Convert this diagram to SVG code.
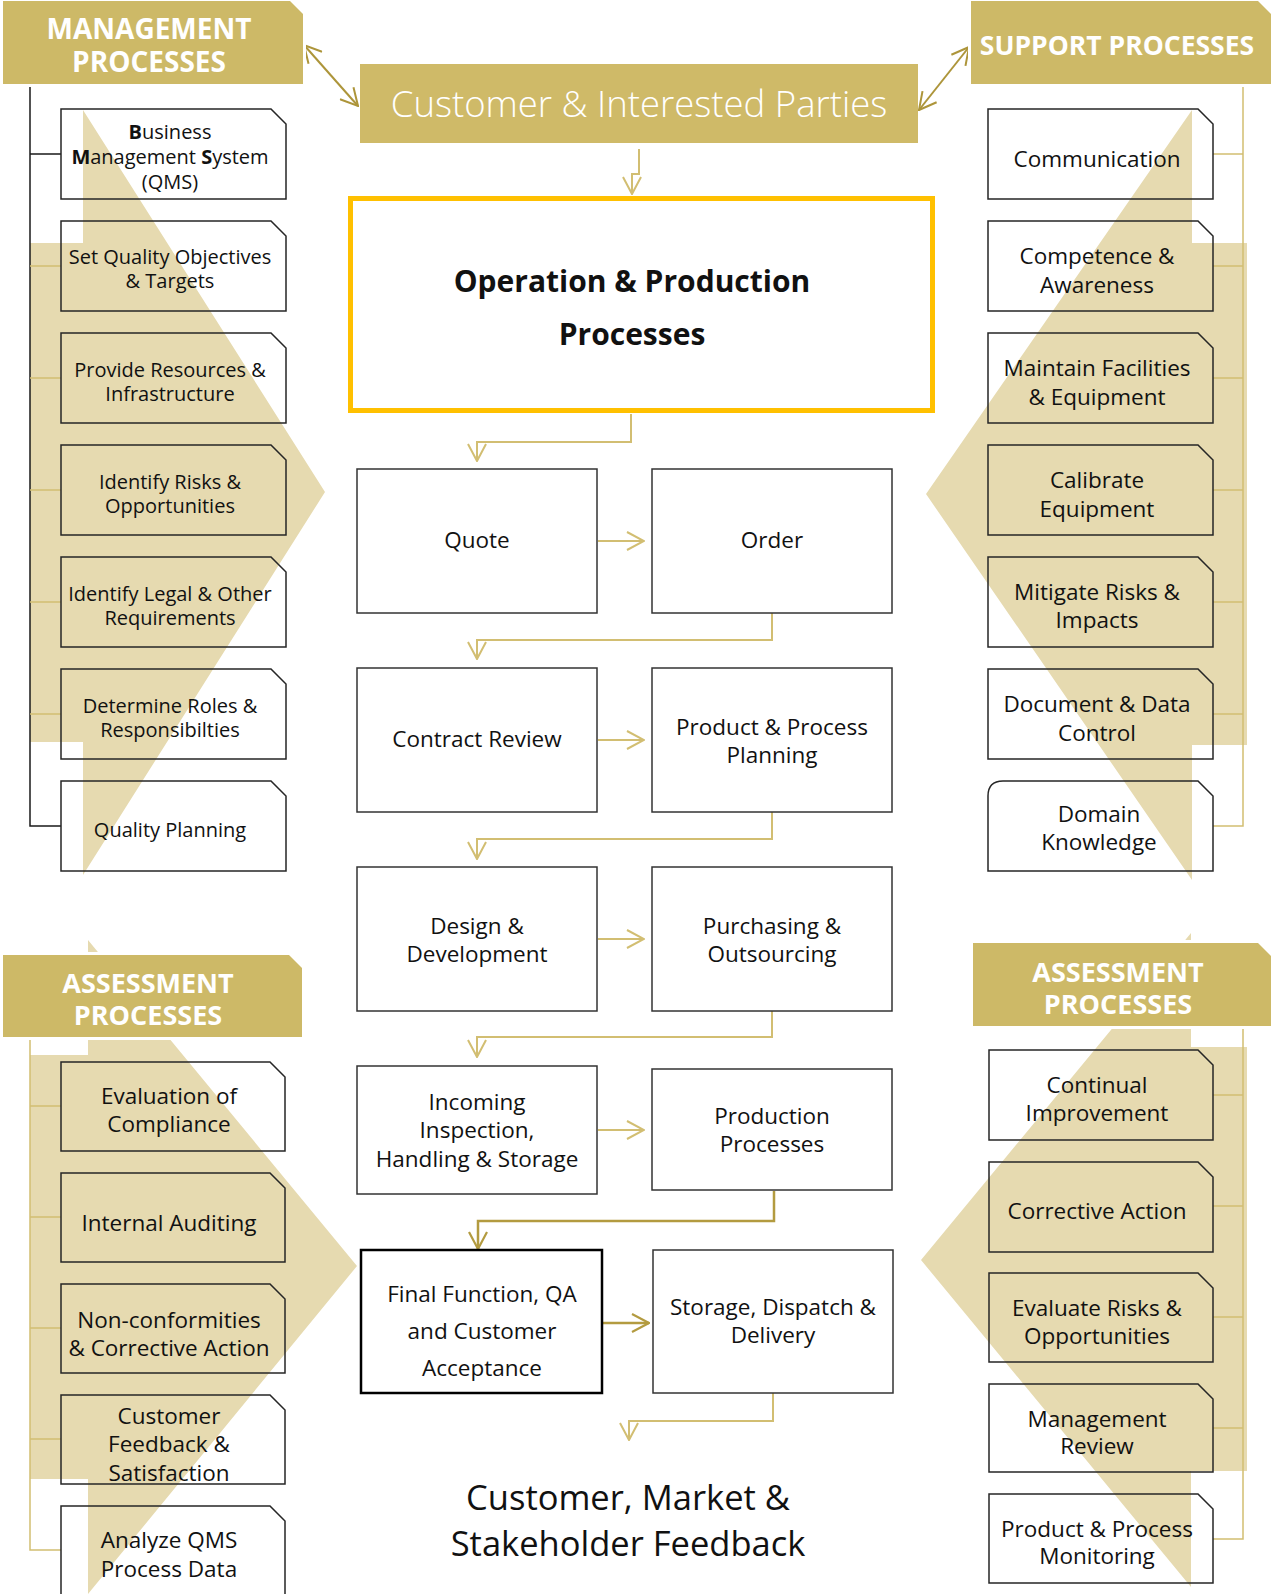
<svg xmlns="http://www.w3.org/2000/svg" width="1271" height="1594" viewBox="0 0 1271 1594">
<style>
text{font-family:'Open Sans','Noto Sans','Liberation Sans',sans-serif;text-anchor:middle;fill:#111}
.hdr{fill:#cdb967;stroke:#fff;stroke-width:6;paint-order:stroke}
.hdrt{font-weight:700;fill:#fff;font-size:27px}
.band{fill:#e6dab0}
.sbox{fill:none;stroke:#262626;stroke-width:1.5}
.cbox{fill:#fff;stroke:#333;stroke-width:1.5}
.t20{font-size:20px}
.t22{font-size:22.5px}
.blk{fill:none;stroke:#1a1a1a;stroke-width:1.5}
.gl{fill:none;stroke:#d2be72;stroke-width:1.5}
.conn{fill:none;stroke:#d2be72;stroke-width:2}
.dconn{fill:none;stroke:#b39b40;stroke-width:2.5}
.biarr{fill:none;stroke:#ad953a;stroke-width:2}
</style>
<defs>
<marker id="a" viewBox="0 0 20 20" refX="19" refY="10" markerWidth="20" markerHeight="20" markerUnits="userSpaceOnUse" orient="auto-start-reverse"><path d="M2,1 L19,10 L2,19" fill="none" stroke="#d2be72" stroke-width="2"/></marker>
<marker id="ad" viewBox="0 0 20 20" refX="19" refY="10" markerWidth="20" markerHeight="20" markerUnits="userSpaceOnUse" orient="auto-start-reverse"><path d="M2,1 L19,10 L2,19" fill="none" stroke="#b39b40" stroke-width="2.2"/></marker>
<marker id="ab" viewBox="0 0 20 20" refX="19" refY="10" markerWidth="20" markerHeight="20" markerUnits="userSpaceOnUse" orient="auto-start-reverse"><path d="M2,1 L19,10 L2,19" fill="none" stroke="#ad953a" stroke-width="2"/></marker>
</defs>

<g id="background-shapes">
<polygon class="band" points="30,243 83,243 83,110 325,492 83,875 83,742 30,742"/>
<polygon class="band" points="1247,243 1192,243 1192,110 926,494 1192,880 1192,745 1247,745"/>
<polygon class="band" points="30,1055 88,1055 88,940 357,1266 88,1594 88,1479 30,1479"/>
<polygon class="band" points="1247,1047 1191,1047 1191,933 921,1260 1191,1587 1191,1471 1247,1471"/>
</g>

<g id="connectors">
<path class="blk" d="M30,87 V826 H61 M30,154 H61"/>
<path class="gl" d="M30,266 H61 M30,378 H61 M30,490 H61 M30,602 H61 M30,714 H61"/>
<path class="gl" d="M1243,87 V826 H1213 M1243,154 H1213 M1243,266 H1213 M1243,378 H1213 M1243,490 H1213 M1243,602 H1213 M1243,714 H1213"/>
<path class="gl" d="M30,1040 V1550 H61 M30,1106 H61 M30,1217 H61 M30,1328 H61 M30,1439 H61"/>
<path class="gl" d="M1243,1028 V1539 H1213 M1243,1095 H1213 M1243,1206 H1213 M1243,1317 H1213 M1243,1428 H1213"/>
<path class="biarr" d="M304,45 L358,106" marker-start="url(#ab)" marker-end="url(#ab)"/>
<path class="biarr" d="M919,110 L969,47" marker-start="url(#ab)" marker-end="url(#ab)"/>
<path class="conn" d="M639,149 V174 H632 V194" marker-end="url(#a)"/>
<path class="conn" d="M631,414 V442 H477 V461" marker-end="url(#a)"/>
<path class="conn" d="M598,541 H644" marker-end="url(#a)"/>
<path class="conn" d="M772,613 V640 H477 V659" marker-end="url(#a)"/>
<path class="conn" d="M598,740 H644" marker-end="url(#a)"/>
<path class="conn" d="M772,812 V839 H477 V859" marker-end="url(#a)"/>
<path class="conn" d="M598,939 H644" marker-end="url(#a)"/>
<path class="conn" d="M772,1011 V1037 H477 V1057" marker-end="url(#a)"/>
<path class="conn" d="M598,1130 H644" marker-end="url(#a)"/>
<path class="dconn" d="M774,1191 V1221 H478 V1249" marker-end="url(#ad)"/>
<path class="dconn" d="M603,1323 H649" marker-end="url(#ad)"/>
<path class="conn" d="M773,1393 V1421 H629 V1440" marker-end="url(#a)"/>
</g>

<g id="management-header">
<polygon class="hdr" points="3,1 290,1 303,14 303,84 3,84"/>
<text class="hdrt" style="font-size:28px"><tspan x="149" y="39">MANAGEMENT</tspan><tspan x="149" y="72">PROCESSES</tspan></text>
</g>
<g id="support-header">
<polygon class="hdr" points="971,1 1258,1 1271,14 1271,84 971,84"/>
<text class="hdrt" x="1117" y="55" style="font-size:26.5px">SUPPORT PROCESSES</text>
</g>
<g id="assessment-header-left">
<polygon class="hdr" points="3,955 289,955 302,968 302,1037 3,1037"/>
<text class="hdrt"><tspan x="148" y="993">ASSESSMENT</tspan><tspan x="148" y="1025">PROCESSES</tspan></text>
</g>
<g id="assessment-header-right">
<polygon class="hdr" points="973,943 1258,943 1271,956 1271,1026 973,1026"/>
<text class="hdrt"><tspan x="1118" y="982">ASSESSMENT</tspan><tspan x="1118" y="1014">PROCESSES</tspan></text>
</g>

<g id="customer-parties">
<rect x="360" y="64" width="558" height="79" fill="#cfba68"/>
<text x="639" y="117" style="font-size:36.5px;font-weight:300;fill:#fff">Customer &amp; Interested Parties</text>
</g>
<g id="operation-production">
<rect x="350.5" y="198.5" width="582" height="212" fill="#fff" stroke="#ffc000" stroke-width="5"/>
<text style="font-size:30px;font-weight:700"><tspan x="632" y="292">Operation &amp; Production</tspan><tspan x="632" y="345">Processes</tspan></text>
</g>

<g id="m1"><path class="sbox" d="M61,109 H271 L286,124 V199 H61 Z"/>
<text class="t20"><tspan x="170" y="139"><tspan font-weight="700">B</tspan>usiness</tspan><tspan x="170" y="164"><tspan font-weight="700">M</tspan>anagement <tspan font-weight="700">S</tspan>ystem</tspan><tspan x="170" y="189">(QMS)</tspan></text></g>
<g id="m2"><path class="sbox" d="M61,221 H271 L286,236 V311 H61 Z"/>
<text class="t20"><tspan x="170" y="264">Set Quality Objectives</tspan><tspan x="170" y="288">&amp; Targets</tspan></text></g>
<g id="m3"><path class="sbox" d="M61,333 H271 L286,348 V423 H61 Z"/>
<text class="t20"><tspan x="170" y="377">Provide Resources &amp;</tspan><tspan x="170" y="401">Infrastructure</tspan></text></g>
<g id="m4"><path class="sbox" d="M61,445 H271 L286,460 V535 H61 Z"/>
<text class="t20"><tspan x="170" y="489">Identify Risks &amp;</tspan><tspan x="170" y="513">Opportunities</tspan></text></g>
<g id="m5"><path class="sbox" d="M61,557 H271 L286,572 V647 H61 Z"/>
<text class="t20"><tspan x="170" y="601">Identify Legal &amp; Other</tspan><tspan x="170" y="625">Requirements</tspan></text></g>
<g id="m6"><path class="sbox" d="M61,669 H271 L286,684 V759 H61 Z"/>
<text class="t20"><tspan x="170" y="713">Determine Roles &amp;</tspan><tspan x="170" y="737">Responsibilties</tspan></text></g>
<g id="m7"><path class="sbox" d="M61,781 H271 L286,796 V871 H61 Z"/>
<text class="t20" x="170" y="837">Quality Planning</text></g>

<g id="s1"><path class="sbox" d="M988,109 H1198 L1213,124 V199 H988 Z"/>
<text class="t22" x="1097" y="167">Communication</text></g>
<g id="s2"><path class="sbox" d="M988,221 H1198 L1213,236 V311 H988 Z"/>
<text class="t22"><tspan x="1097" y="264">Competence &amp;</tspan><tspan x="1097" y="293">Awareness</tspan></text></g>
<g id="s3"><path class="sbox" d="M988,333 H1198 L1213,348 V423 H988 Z"/>
<text class="t22"><tspan x="1097" y="376">Maintain Facilities</tspan><tspan x="1097" y="405">&amp; Equipment</tspan></text></g>
<g id="s4"><path class="sbox" d="M988,445 H1198 L1213,460 V535 H988 Z"/>
<text class="t22"><tspan x="1097" y="488">Calibrate</tspan><tspan x="1097" y="517">Equipment</tspan></text></g>
<g id="s5"><path class="sbox" d="M988,557 H1198 L1213,572 V647 H988 Z"/>
<text class="t22"><tspan x="1097" y="600">Mitigate Risks &amp;</tspan><tspan x="1097" y="628">Impacts</tspan></text></g>
<g id="s6"><path class="sbox" d="M988,669 H1198 L1213,684 V759 H988 Z"/>
<text class="t22"><tspan x="1097" y="712">Document &amp; Data</tspan><tspan x="1097" y="741">Control</tspan></text></g>
<g id="s7"><path class="sbox" d="M988,796 Q988,781 1003,781 H1198 L1213,796 V871 H988 Z"/>
<text class="t22"><tspan x="1099" y="822">Domain</tspan><tspan x="1099" y="850">Knowledge</tspan></text></g>

<g id="la1"><path class="sbox" d="M61,1062 H270 L285,1077 V1151 H61 Z"/>
<text class="t22"><tspan x="169" y="1104">Evaluation of</tspan><tspan x="169" y="1132">Compliance</tspan></text></g>
<g id="la2"><path class="sbox" d="M61,1173 H270 L285,1188 V1262 H61 Z"/>
<text class="t22" x="169" y="1231">Internal Auditing</text></g>
<g id="la3"><path class="sbox" d="M61,1284 H270 L285,1299 V1373 H61 Z"/>
<text class="t22"><tspan x="169" y="1328">Non-conformities</tspan><tspan x="169" y="1356">&amp; Corrective Action</tspan></text></g>
<g id="la4"><path class="sbox" d="M61,1395 H270 L285,1410 V1484 H61 Z"/>
<text class="t22"><tspan x="169" y="1424">Customer</tspan><tspan x="169" y="1452">Feedback &amp;</tspan><tspan x="169" y="1481">Satisfaction</tspan></text></g>
<g id="la5"><path class="sbox" d="M61,1506 H270 L285,1521 V1595 H61 Z"/>
<text class="t22"><tspan x="169" y="1548">Analyze QMS</tspan><tspan x="169" y="1577">Process Data</tspan></text></g>

<g id="ra1"><path class="sbox" d="M989,1050 H1198 L1213,1065 V1140 H989 Z"/>
<text class="t22"><tspan x="1097" y="1093">Continual</tspan><tspan x="1097" y="1121">Improvement</tspan></text></g>
<g id="ra2"><path class="sbox" d="M989,1162 H1198 L1213,1177 V1252 H989 Z"/>
<text class="t22" x="1097" y="1219">Corrective Action</text></g>
<g id="ra3"><path class="sbox" d="M989,1273 H1198 L1213,1288 V1362 H989 Z"/>
<text class="t22"><tspan x="1097" y="1316">Evaluate Risks &amp;</tspan><tspan x="1097" y="1344">Opportunities</tspan></text></g>
<g id="ra4"><path class="sbox" d="M989,1384 H1198 L1213,1399 V1472 H989 Z"/>
<text class="t22"><tspan x="1097" y="1427">Management</tspan><tspan x="1097" y="1454">Review</tspan></text></g>
<g id="ra5"><path class="sbox" d="M989,1494 H1198 L1213,1509 V1583 H989 Z"/>
<text class="t22"><tspan x="1097" y="1537">Product &amp; Process</tspan><tspan x="1097" y="1564">Monitoring</tspan></text></g>

<g id="quote"><rect class="cbox" x="357" y="469" width="240" height="144"/><text class="t22" x="477" y="548">Quote</text></g>
<g id="order"><rect class="cbox" x="652" y="469" width="240" height="144"/><text class="t22" x="772" y="548">Order</text></g>
<g id="contract-review"><rect class="cbox" x="357" y="668" width="240" height="144"/><text class="t22" x="477" y="747">Contract Review</text></g>
<g id="product-process-planning"><rect class="cbox" x="652" y="668" width="240" height="144"/><text class="t22"><tspan x="772" y="735">Product &amp; Process</tspan><tspan x="772" y="763">Planning</tspan></text></g>
<g id="design-development"><rect class="cbox" x="357" y="867" width="240" height="144"/><text class="t22"><tspan x="477" y="934">Design &amp;</tspan><tspan x="477" y="962">Development</tspan></text></g>
<g id="purchasing"><rect class="cbox" x="652" y="867" width="240" height="144"/><text class="t22"><tspan x="772" y="934">Purchasing &amp;</tspan><tspan x="772" y="962">Outsourcing</tspan></text></g>
<g id="incoming"><rect class="cbox" x="357" y="1066" width="240" height="128"/><text class="t22"><tspan x="477" y="1110">Incoming</tspan><tspan x="477" y="1138">Inspection,</tspan><tspan x="477" y="1167">Handling &amp; Storage</tspan></text></g>
<g id="production"><rect class="cbox" x="652" y="1069" width="240" height="121"/><text class="t22"><tspan x="772" y="1124">Production</tspan><tspan x="772" y="1152">Processes</tspan></text></g>
<g id="final-function"><rect x="361" y="1250" width="241" height="143" fill="#fff" stroke="#000" stroke-width="2.5"/><text class="t22"><tspan x="482" y="1302">Final Function, QA</tspan><tspan x="482" y="1339">and Customer</tspan><tspan x="482" y="1376">Acceptance</tspan></text></g>
<g id="storage-dispatch"><rect class="cbox" x="653" y="1250" width="240" height="143"/><text class="t22"><tspan x="773" y="1315">Storage, Dispatch &amp;</tspan><tspan x="773" y="1343">Delivery</tspan></text></g>

<g id="feedback">
<text style="font-size:34.5px"><tspan x="628" y="1510">Customer, Market &amp;</tspan><tspan x="628" y="1556">Stakeholder Feedback</tspan></text>
</g>
</svg>
